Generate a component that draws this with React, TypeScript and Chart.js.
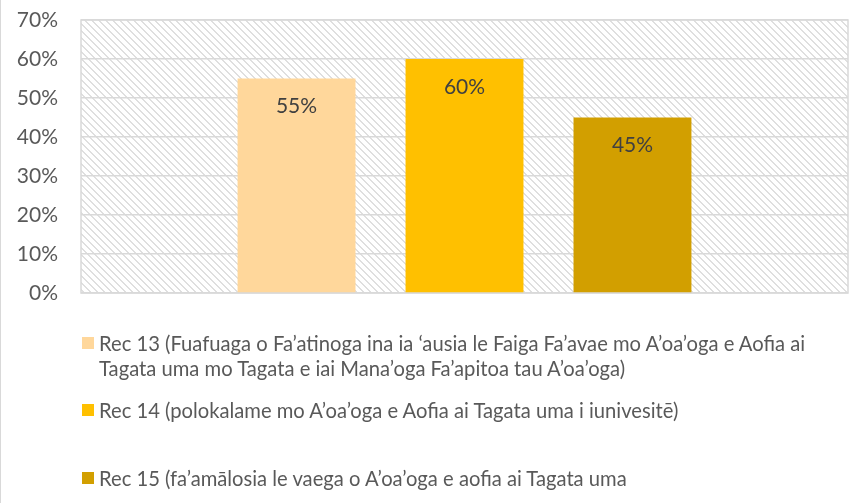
import React, { useEffect, useRef } from "react";
import { Chart, registerables } from "chart.js";

Chart.register(...registerables);

const categories = [""];
const seriesLabels = [
  "Rec 13 (Fuafuaga o Fa’atinoga ina ia ‘ausia le Faiga Fa’avae mo A’oa’oga e Aofia ai Tagata uma mo Tagata e iai Mana’oga Fa’apitoa tau A’oa’oga)",
  "Rec 14 (polokalame mo A’oa’oga e Aofia ai Tagata uma i iunivesitē)",
  "Rec 15 (fa’amālosia le vaega o A’oa’oga e aofia ai Tagata uma",
];
const seriesValues = [55, 60, 45];
const seriesColors = ["#FFD79B", "#FFC000", "#D29F00"];
const yMin = 0;
const yMax = 70;
const yStep = 10;

const FONT = "Lato";

function makePattern(ctx: CanvasRenderingContext2D) {
  const s = 7;
  const c = document.createElement("canvas");
  c.width = s;
  c.height = s;
  const p = c.getContext("2d")!;
  p.fillStyle = "#ffffff";
  p.fillRect(0, 0, s, s);
  p.fillStyle = "#dfdfdf";
  for (let i = 0; i < s; i++) {
    p.fillRect(i, i, 1, 1);
    p.fillRect((i + 1) % s, i, 1, 1);
  }
  return ctx.createPattern(c, "repeat");
}

const hatchPlugin = {
  id: "hatchBg",
  beforeDraw(chart: any) {
    const { ctx, chartArea } = chart;
    const pat = makePattern(ctx);
    ctx.save();
    ctx.fillStyle = pat || "#fff";
    ctx.fillRect(chartArea.left, chartArea.top, chartArea.right - chartArea.left, chartArea.bottom - chartArea.top);
    ctx.restore();
  },
  beforeDatasetsDraw(chart: any) {
    const { ctx, chartArea } = chart;
    ctx.save();
    ctx.strokeStyle = "#d9d9d9";
    ctx.lineWidth = 1.5;
    ctx.strokeRect(chartArea.left, chartArea.top, chartArea.right - chartArea.left, chartArea.bottom - chartArea.top);
    ctx.restore();
  },
};

const labelPlugin = {
  id: "barLabels",
  afterDatasetsDraw(chart: any) {
    const { ctx } = chart;
    ctx.save();
    ctx.fillStyle = "#404040";
    ctx.font = `21px ${FONT}`;
    ctx.textAlign = "center";
    ctx.textBaseline = "middle";
    chart.data.datasets.forEach((ds: any, i: number) => {
      const meta = chart.getDatasetMeta(i);
      meta.data.forEach((el: any, j: number) => {
        ctx.fillText(ds.data[j] + "%", el.x, el.y + 28);
      });
    });
    ctx.restore();
  },
};

const legendMargins = [331, 17, 43];

export default function App() {
  const ref = useRef<HTMLCanvasElement>(null);
  useEffect(() => {
    const chart = new Chart(ref.current!, {
      type: "bar",
      data: {
        labels: categories,
        datasets: seriesLabels.map((label, i) => ({
          label,
          data: [seriesValues[i]],
          backgroundColor: seriesColors[i],
          borderWidth: 0,
          categoryPercentage: 0.657,
          barPercentage: 0.702,
        })),
      },
      options: {
        animation: false,
        responsive: false,
        maintainAspectRatio: false,
        layout: { padding: { left: 0, right: 19, top: 20, bottom: 27 } },
        plugins: { legend: { display: false }, tooltip: { enabled: false } },
        scales: {
          x: { display: false, offset: true, grid: { display: false } },
          y: {
            min: yMin,
            max: yMax,
            border: { display: false },
            grid: { color: "#d9d9d9", lineWidth: 1.5, drawTicks: false },
            ticks: {
              stepSize: yStep,
              padding: 23,
              color: "#595959",
              font: { family: FONT, size: 21 },
              callback: (v: any) => v + "%",
            },
            afterFit: (scale: any) => {
              scale.width = 80;
              scale.paddingTop = 0;
              scale.paddingBottom = 0;
            },
          },
        },
      },
      plugins: [hatchPlugin, labelPlugin],
    });
    return () => chart.destroy();
  }, []);

  return (
    <div
      style={{
        position: "fixed",
        left: 0,
        top: 0,
        width: 867,
        height: 503,
        boxSizing: "border-box",
        borderLeft: "1px solid #d9d9d9",
        background: "#fff",
        overflow: "hidden",
        fontFamily: FONT,
      }}
    >
      <canvas ref={ref} width={866} height={320} style={{ position: "absolute", left: 0, top: 0 }} />
      <div style={{ position: "absolute", left: 81, top: 0, width: 742 }}>
        {seriesLabels.map((label, i) => (
          <div key={i} style={{ display: "flex", marginTop: legendMargins[i], alignItems: "flex-start" }}>
            <div
              style={{
                width: 12,
                height: 12,
                flex: "0 0 12px",
                background: seriesColors[i],
                marginTop: 6,
                marginRight: 5,
              }}
            />
            <div style={{ fontSize: 20.2, lineHeight: "25px", color: "#595959" }}>{label}</div>
          </div>
        ))}
      </div>
    </div>
  );
}
